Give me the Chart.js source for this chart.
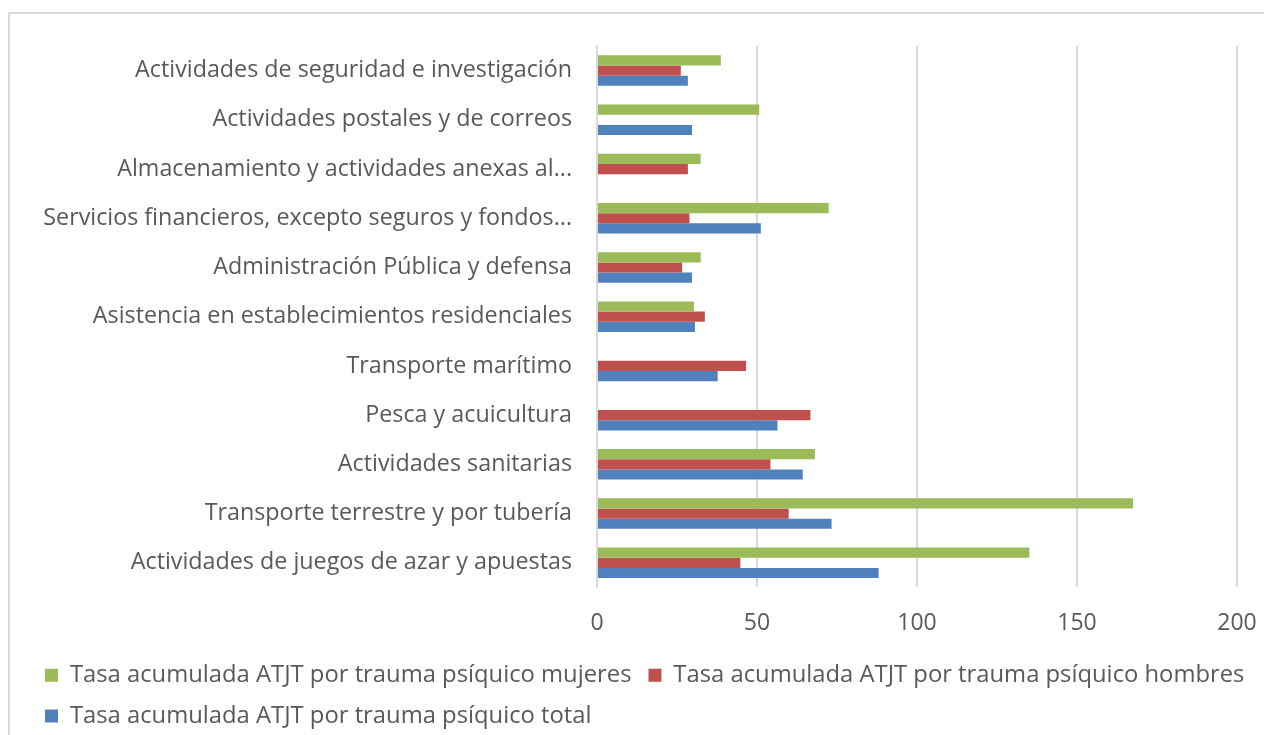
<!DOCTYPE html>
<html>
<head>
<meta charset="utf-8">
<script src="https://cdn.jsdelivr.net/npm/chart.js@4"></script>
<style>
  html, body { margin: 0; padding: 0; background: #fff; overflow: hidden; }
  #frame {
    position: absolute; left: 8px; top: 12px;
    width: 1300px; height: 800px;
    border: 2px solid #d9d9d9; box-sizing: border-box;
  }
  #wrap { position: absolute; left: 0; top: 0; width: 1264px; height: 735px; }
</style>
</head>
<body>
<div id="frame"></div>
<div id="wrap"><canvas id="chart" width="1264" height="735"></canvas></div>
<script>
const categories = [
  "Actividades de seguridad e investigación",
  "Actividades postales y de correos",
  "Almacenamiento y actividades anexas al...",
  "Servicios financieros, excepto seguros y fondos...",
  "Administración Pública y defensa",
  "Asistencia en establecimientos residenciales",
  "Transporte marítimo",
  "Pesca y acuicultura",
  "Actividades sanitarias",
  "Transporte terrestre y por tubería",
  "Actividades de juegos de azar y apuestas"
];
const mujeres = [38.7, 50.7, 32.4, 72.4, 32.4, 30.3, null, null, 68.1, 167.5, 135.1];
const hombres = [26.2, null, 28.4, 28.9, 26.6, 33.7, 46.6, 66.7, 54.2, 59.9, 44.8];
const total = [28.4, 29.7, null, 51.2, 29.7, 30.6, 37.7, 56.4, 64.3, 73.3, 88.0];
const xTicks = [0, 50, 100, 150, 200];

const font = "'Open Sans', sans-serif";
const textColor = "#595959";

document.addEventListener("DOMContentLoaded", function () {
  const ctx = document.getElementById("chart");
  new Chart(ctx, {
    type: "bar",
    data: {
      labels: categories,
      datasets: [
        { label: "Tasa acumulada ATJT por trauma psíquico mujeres", data: mujeres, backgroundColor: "#9BBB59" },
        { label: "Tasa acumulada ATJT por trauma psíquico hombres", data: hombres, backgroundColor: "#C0504D" },
        { label: "Tasa acumulada ATJT por trauma psíquico total", data: total, backgroundColor: "#4F81BD" }
      ]
    },
    options: {
      indexAxis: "y",
      responsive: false,
      animation: false,
      categoryPercentage: 0.62,
      barPercentage: 1.0,
      layout: { padding: { left: 28, right: 0, top: 46, bottom: -3 } },
      plugins: {
        tooltip: { enabled: false },
        legend: {
          position: "bottom",
          align: "start",
          labels: {
            font: { family: font, size: 23.8 },
            color: textColor,
            boxWidth: 13,
            boxHeight: 13,
            padding: 17
          }
        }
      },
      scales: {
        x: {
          min: 0,
          max: 200,
          afterBuildTicks: (s) => { s.ticks = xTicks.map((v) => ({ value: v })); },
          afterFit: (s) => { s.height = 59; s.paddingLeft = 0; s.paddingRight = 27; },
          grid: { color: "#d9d9d9", lineWidth: 2, drawTicks: false },
          border: { display: false },
          ticks: { font: { family: font, size: 23 }, color: textColor, padding: 22 }
        },
        y: {
          afterFit: (s) => { s.width = 569; },
          grid: { display: false, drawTicks: false },
          border: { display: true, color: "#d9d9d9", width: 2 },
          ticks: { font: { family: font, size: 23.3 }, color: textColor, padding: 25, autoSkip: false }
        }
      }
    }
  });
});
</script>
</body>
</html>
